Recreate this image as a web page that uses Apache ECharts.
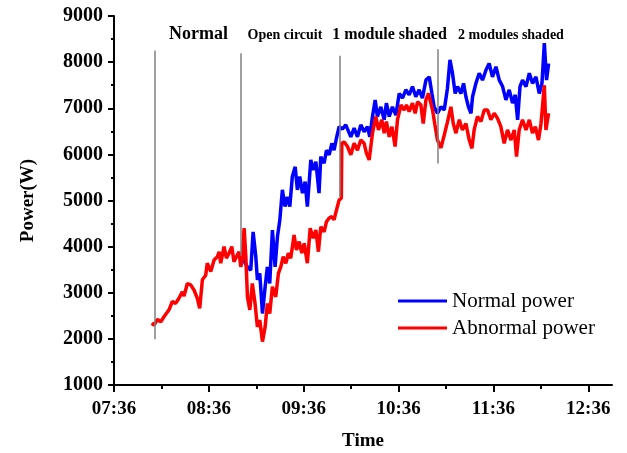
<!DOCTYPE html>
<html><head><meta charset="utf-8">
<script src="https://cdn.jsdelivr.net/npm/echarts@6/dist/echarts.min.js"></script>
<style>html,body{margin:0;padding:0;background:#fff}#chart{width:627px;height:453px}</style>
</head><body><div id="chart"></div>
<script>
// Time is stored as minutes after 07:36
const xTickMinutes = [0, 60, 120, 180, 240, 300];
const xTickLabels = ['07:36', '08:36', '09:36', '10:36', '11:36', '12:36'];
const xMinorTickMinutes = [30, 90, 150, 210, 270];

const regionLabels = ['Normal', 'Open circuit', '1 module shaded', '2 modules shaded'];
const dividerMinutes = [25.9, 80.2, 142.9, 204.9];
const dividerTop = [8250, 8190, 8140, 8280];
const dividerBottom = [1990, 3800, 5080, 5800];

const redMinutes = [23.9,25.3,27.4,29.6,31.6,34.8,36.9,39.0,41.1,43.2,
44.3,46.4,48.5,50.6,52.7,54.2,55.9,58.0,59.0,61.2,
63.3,65.4,66.5,67.5,69.6,71.1,72.8,74.5,75.9,77.4,
79.1,80.2,81.2,82.3,83.4,84.4,85.9,87.5,89.2,90.7,
92.2,93.9,95.6,97.0,98.5,100.2,102.3,104.0,105.5,107.0,
108.7,110.3,111.8,113.9,115.4,117.1,118.8,120.3,122.3,124.1,
126.0,127.7,129.3,130.8,132.9,134.4,136.1,137.8,139.2,140.7,
142.4,143.8,144.1,145.6,147.7,149.8,151.9,154.0,156.1,158.2,
159.7,161.4,163.5,165.6,167.3,169.4,170.9,172.3,174.1,175.8,
177.8,179.3,181.5,183.5,185.0,186.7,188.8,190.5,192.0,194.1,
195.6,197.3,198.9,200.4,201.5,203.0,204.6,206.8,208.9,210.9,
213.1,214.6,216.3,218.4,220.4,222.6,224.7,226.4,227.8,229.9,
232.1,234.2,236.3,238.4,240.5,242.6,244.7,246.8,248.9,251.1,
253.2,254.6,256.3,258.4,260.6,262.7,264.7,266.5,268.5,270.1,
272.2,273.2,274.9];
const redPower = [2340,2300,2420,2370,2480,2630,2810,2770,2880,3020,
2930,3200,3170,3060,2880,2660,3280,3380,3640,3460,
3710,3780,3890,3640,4000,3750,3860,4000,3670,3780,
3890,3560,3750,4400,3780,2910,2630,3200,2770,2260,
2410,1940,2260,2770,2550,3130,2910,3420,3560,3780,
3640,3860,3750,4250,3930,4110,3860,4070,3640,4400,
4180,4360,3890,4430,4320,4540,4620,4650,4580,4790,
5010,5050,6240,6270,6170,5990,6240,6090,6310,6240,
6020,5880,6460,6820,6530,6750,6460,6710,6380,6600,
6170,6750,7070,6960,7070,6930,7110,6890,7140,7070,
6670,7180,7320,7110,6960,6640,6310,6140,6420,6700,
7030,6670,6460,6750,6530,6670,6310,6130,6530,6820,
6710,6960,6960,6750,6890,6780,6600,6240,6530,6310,
6530,5950,6530,6750,6530,6750,6460,6600,6310,6670,
7500,6530,6890];

const blueMinutes = [81.2,84.4,86.5,88.0,89.7,90.7,92.2,93.9,95.6,97.0,
98.5,100.2,101.9,103.4,104.9,106.5,108.2,109.7,111.2,112.8,
114.6,116.0,117.5,119.2,120.9,122.3,124.5,125.9,127.7,129.7,
130.8,132.9,134.4,136.1,137.8,139.2,140.7,142.4,144.5,146.6,
147.7,149.8,151.9,154.0,156.1,158.2,160.3,161.8,163.5,165.2,
166.6,168.8,170.9,172.3,174.1,176.1,178.3,180.4,182.5,184.6,
186.7,188.8,190.9,193.0,195.1,197.3,199.4,201.1,202.5,204.6,
206.8,208.9,210.9,212.5,214.1,215.8,217.3,219.4,221.1,222.6,
224.2,225.8,226.8,228.9,231.0,233.1,235.3,237.3,239.4,241.6,
243.7,245.8,247.9,250.0,252.1,253.8,255.3,256.8,258.4,260.6,
262.7,264.7,266.9,269.0,270.7,272.2,273.6,274.9];
const bluePower = [3750,3560,3490,4320,3780,3280,3420,2550,3130,3560,
3200,4360,3560,4220,4580,5230,4870,5080,4870,5520,
5730,5230,5520,5160,5410,4870,5880,5660,5840,5160,
5950,5810,6090,5990,6240,6090,6350,6600,6550,6640,
6670,6380,6570,6380,6640,6490,6600,6380,6820,7180,
6820,7030,6750,7110,6820,7030,6850,7320,7220,7400,
7290,7470,7250,7400,7220,7610,7680,7320,7030,6890,
7030,6960,7430,8050,7760,7320,7470,7320,7540,7250,
7030,6890,7250,7540,7760,7610,7830,7970,7680,7900,
7610,7470,7180,7400,7110,7290,6750,7470,7610,7470,
7760,7540,7680,7320,7540,8410,7610,7970];

const FONT = '"Liberation Serif","Times New Roman",serif';
function toPairs(xs, ys) { return xs.map((x, i) => [x, ys[i]]); }

const chart = echarts.init(document.getElementById('chart'), null, {renderer: 'canvas'});
const blackLine = {color: '#000', width: 2};
const option = {
  animation: false,
  backgroundColor: '#fff',
  grid: {left: 114, right: 15, top: 16, bottom: 68, containLabel: false, outerBoundsMode: 'none'},
  legend: {
    data: ['Normal power', 'Abnormal power'],
    orient: 'vertical', left: 393, top: 285,
    icon: 'rect',
    itemWidth: 49, itemHeight: 3, itemGap: 5,
    textStyle: {fontFamily: FONT, fontSize: 21, color: '#000', lineHeight: 22}
  },
  xAxis: [{
    type: 'value', position: 'bottom', min: 0, max: 315,
    axisLine: {show: true, onZero: false, lineStyle: blackLine},
    axisTick: {show: true, customValues: xTickMinutes, length: 7, lineStyle: blackLine},
    axisLabel: {
      customValues: xTickMinutes,
      formatter: v => { const i = xTickMinutes.indexOf(v); return i >= 0 ? xTickLabels[i] : ''; },
      fontFamily: FONT, fontWeight: 'bold', fontSize: 19, color: '#000', margin: 15
    },
    splitLine: {show: false},
    name: 'Time', nameLocation: 'middle', nameGap: 47,
    nameTextStyle: {fontFamily: FONT, fontWeight: 'bold', fontSize: 19, color: '#000'}
  }, {
    type: 'value', position: 'bottom', min: 0, max: 315,
    axisLine: {show: false, onZero: false},
    axisTick: {show: true, customValues: xMinorTickMinutes, length: 4, lineStyle: blackLine},
    axisLabel: {show: false},
    splitLine: {show: false}
  }],
  yAxis: {
    type: 'value', min: 1000, max: 9000, interval: 1000,
    axisLine: {show: true, lineStyle: blackLine},
    axisTick: {show: true, length: 6, lineStyle: blackLine},
    minorTick: {show: true, splitNumber: 2, length: 3, lineStyle: blackLine},
    axisLabel: {fontFamily: FONT, fontWeight: 'bold', fontSize: 20, color: '#000', margin: 11,
      formatter: v => String(v)},
    splitLine: {show: false},
    name: 'Power(W)', nameLocation: 'middle', nameGap: 76,
    nameTextStyle: {fontFamily: FONT, fontWeight: 'bold', fontSize: 19, color: '#000'}
  },
  series: [
    {
      name: 'Normal power', type: 'line', xAxisIndex: 0,
      data: toPairs(blueMinutes, bluePower),
      showSymbol: false, symbol: 'none',
      lineStyle: {color: '#0000ff', width: 3.5}, itemStyle: {color: '#0000ff'}, z: 2
    },
    {
      name: 'Abnormal power', type: 'line', xAxisIndex: 0,
      data: toPairs(redMinutes, redPower),
      showSymbol: false, symbol: 'none',
      lineStyle: {color: '#ff0000', width: 3.5}, itemStyle: {color: '#ff0000'}, z: 3
    },
    {
      type: 'line', xAxisIndex: 0, data: [], z: 4,
      markLine: {
        silent: true, symbol: 'none', animation: false,
        label: {show: false},
        lineStyle: {color: '#808080', width: 1.5, type: 'solid'},
        data: dividerMinutes.map((m, i) => [{coord: [m, dividerTop[i]]}, {coord: [m, dividerBottom[i]]}])
      }
    }
  ],
  graphic: [
    {type: 'text', x: 198.5, y: 34, style: {text: regionLabels[0], font: 'bold 18px ' + FONT, align: 'center', verticalAlign: 'middle', fill: '#000'}},
    {type: 'text', x: 285, y: 35, style: {text: regionLabels[1], font: 'bold 14px ' + FONT, align: 'center', verticalAlign: 'middle', fill: '#000'}},
    {type: 'text', x: 389.5, y: 34.5, style: {text: regionLabels[2], font: 'bold 16px ' + FONT, align: 'center', verticalAlign: 'middle', fill: '#000'}},
    {type: 'text', x: 511, y: 35, style: {text: regionLabels[3], font: 'bold 14px ' + FONT, align: 'center', verticalAlign: 'middle', fill: '#000'}}
  ]
};
chart.setOption(option);
</script>
</body></html>
